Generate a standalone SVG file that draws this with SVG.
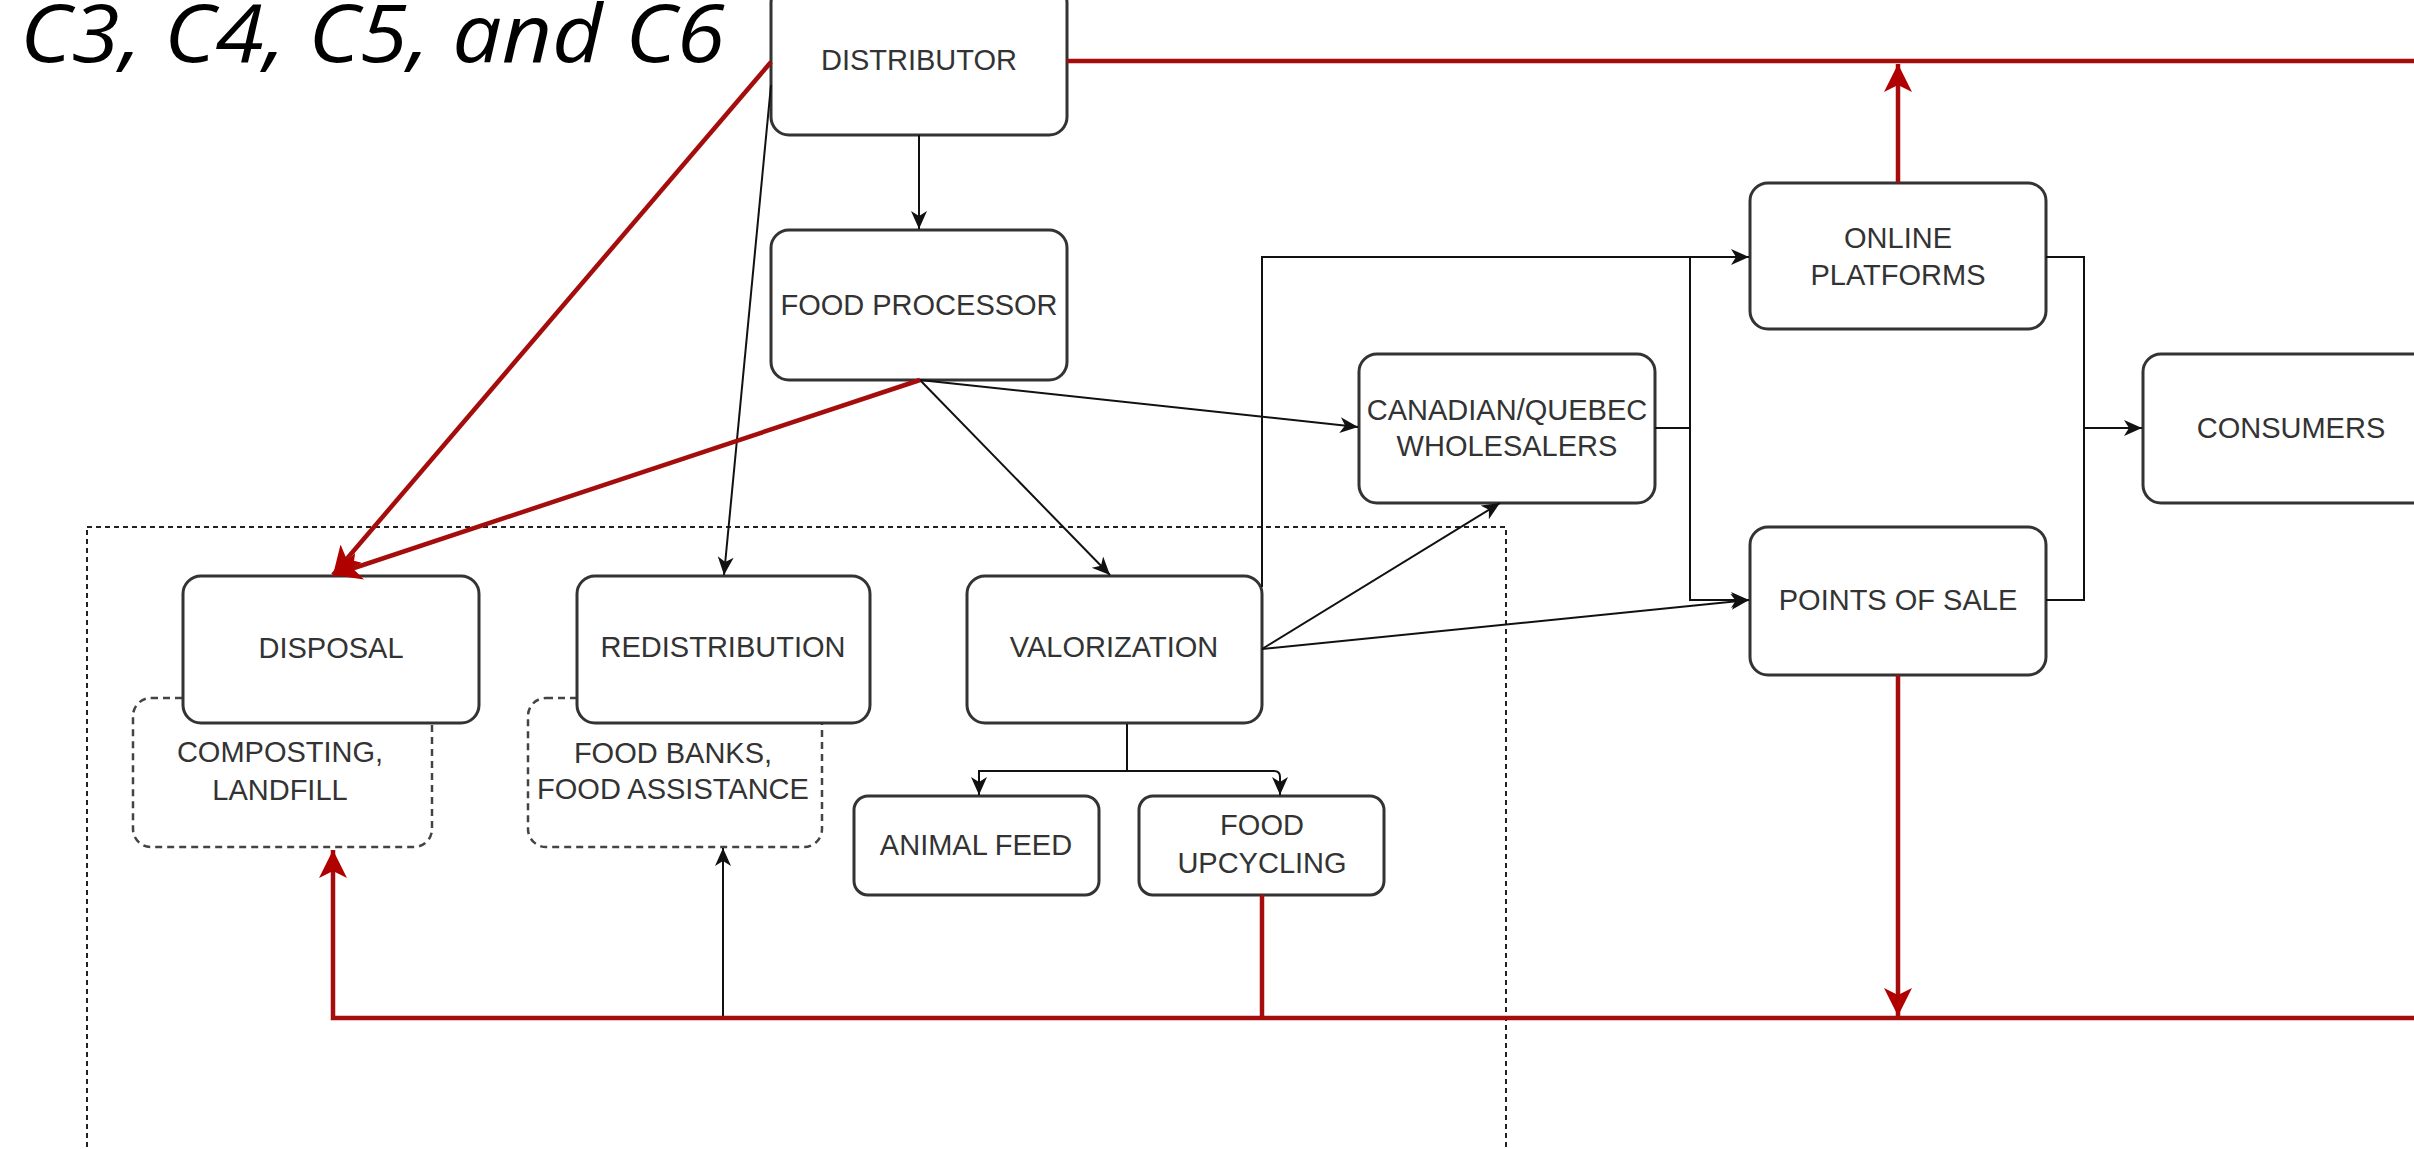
<svg xmlns="http://www.w3.org/2000/svg" width="2414" height="1149" viewBox="0 0 2414 1149">
<style>
.box{fill:#fff;stroke:#333;stroke-width:3}
.dbox{fill:#fff;stroke:#444;stroke-width:2.5;stroke-dasharray:7 5}
.frame{fill:none;stroke:#222;stroke-width:2;stroke-dasharray:5 4}
.lbl{font-family:"Liberation Sans",Arial,sans-serif;font-size:29px;fill:#333;text-anchor:middle}
.blk{stroke:#111;stroke-width:2;fill:none}
.red{stroke:#a50d0d;stroke-width:4.5;fill:none}
.title{font-family:"Open Sans","Liberation Sans",sans-serif;font-style:italic;font-size:80px;fill:#000}
</style>
<defs>
<marker id="ab" markerUnits="userSpaceOnUse" markerWidth="20" markerHeight="18" refX="18" refY="8" orient="auto"><path d="M0,0 L18,8 L0,16 L5,8 z" fill="#111"/></marker>
<marker id="ar" markerUnits="userSpaceOnUse" markerWidth="30" markerHeight="30" refX="28" refY="14" orient="auto"><path d="M0,0 L28,14 L0,28 L7,14 z" fill="#b00000"/></marker>
</defs>
<rect width="2414" height="1149" fill="#fff"/>
<text class="title" x="20" y="62" textLength="705" lengthAdjust="spacingAndGlyphs">C3, C4, C5, and C6</text>
<rect id="scope" class="frame" x="87" y="527" width="1419" height="700"/>

<g id="composting">
<rect class="dbox" x="133" y="698" width="299" height="149" rx="18"/>
<text class="lbl" x="280" y="762">COMPOSTING,</text>
<text class="lbl" x="280" y="800">LANDFILL</text>
</g>
<g id="foodbanks">
<rect class="dbox" x="528" y="698" width="294" height="149" rx="18"/>
<text class="lbl" x="673" y="763">FOOD BANKS,</text>
<text class="lbl" x="673" y="799">FOOD ASSISTANCE</text>
</g>
<g id="distributor">
<rect class="box" x="771" y="-15" width="296" height="150" rx="18"/>
<text class="lbl" x="919" y="70">DISTRIBUTOR</text>
</g>
<g id="foodprocessor">
<rect class="box" x="771" y="230" width="296" height="150" rx="18"/>
<text class="lbl" x="919" y="315">FOOD PROCESSOR</text>
</g>
<g id="wholesalers">
<rect class="box" x="1359" y="354" width="296" height="149" rx="18"/>
<text class="lbl" x="1507" y="420">CANADIAN/QUEBEC</text>
<text class="lbl" x="1507" y="456">WHOLESALERS</text>
</g>
<g id="online">
<rect class="box" x="1750" y="183" width="296" height="146" rx="18"/>
<text class="lbl" x="1898" y="248">ONLINE</text>
<text class="lbl" x="1898" y="285">PLATFORMS</text>
</g>
<g id="consumers">
<rect class="box" x="2143" y="354" width="296" height="149" rx="18"/>
<text class="lbl" x="2291" y="438">CONSUMERS</text>
</g>
<g id="pointsofsale">
<rect class="box" x="1750" y="527" width="296" height="148" rx="18"/>
<text class="lbl" x="1898" y="610">POINTS OF SALE</text>
</g>
<g id="disposal">
<rect class="box" x="183" y="576" width="296" height="147" rx="18"/>
<text class="lbl" x="331" y="658">DISPOSAL</text>
</g>
<g id="redistribution">
<rect class="box" x="577" y="576" width="293" height="147" rx="18"/>
<text class="lbl" x="723" y="657">REDISTRIBUTION</text>
</g>
<g id="valorization">
<rect class="box" x="967" y="576" width="295" height="147" rx="18"/>
<text class="lbl" x="1114" y="657">VALORIZATION</text>
</g>
<g id="animalfeed">
<rect class="box" x="854" y="796" width="245" height="99" rx="14"/>
<text class="lbl" x="976" y="855">ANIMAL FEED</text>
</g>
<g id="upcycling">
<rect class="box" x="1139" y="796" width="245" height="99" rx="14"/>
<text class="lbl" x="1262" y="835">FOOD</text>
<text class="lbl" x="1262" y="873">UPCYCLING</text>
</g>

<g id="connectors">
<path class="blk" d="M919,135 V229" marker-end="url(#ab)"/>
<path class="blk" d="M771,85 L724,575" marker-end="url(#ab)"/>
<path class="blk" d="M920,380 L1110,575" marker-end="url(#ab)"/>
<path class="blk" d="M920,380 L1358,427" marker-end="url(#ab)"/>
<path class="blk" d="M1262,649 L1500,503" marker-end="url(#ab)"/>
<path class="blk" d="M1262,649 L1749,600" marker-end="url(#ab)"/>
<path class="blk" d="M1262,587 V257 H1749" marker-end="url(#ab)"/>
<path class="blk" d="M1655,428 H1690"/>
<path class="blk" d="M1690,257 V600 H1749" marker-end="url(#ab)"/>
<path class="blk" d="M2046,257 H2084 V600 H2046"/>
<path class="blk" d="M2084,428 H2142" marker-end="url(#ab)"/>
<path class="blk" d="M1127,724 V771"/>
<path class="blk" d="M1127,771 H979 V795" marker-end="url(#ab)"/>
<path class="blk" d="M1127,771 H1274 Q1280,771 1280,777 V795" marker-end="url(#ab)"/>
<path class="blk" d="M723,1018 V848" marker-end="url(#ab)"/>

<path class="red" d="M1067,61 H2414"/>
<path class="red" d="M1898,183 V64" marker-end="url(#ar)"/>
<path class="red" d="M771,62 L333,575" marker-end="url(#ar)"/>
<path class="red" d="M920,380 L333,575" marker-end="url(#ar)"/>
<path class="red" d="M2414,1018 H333 V850" marker-end="url(#ar)"/>
<path class="red" d="M1262,895 V1018"/>
<path class="red" d="M1898,675 V1016" marker-end="url(#ar)"/>
</g>
</svg>
